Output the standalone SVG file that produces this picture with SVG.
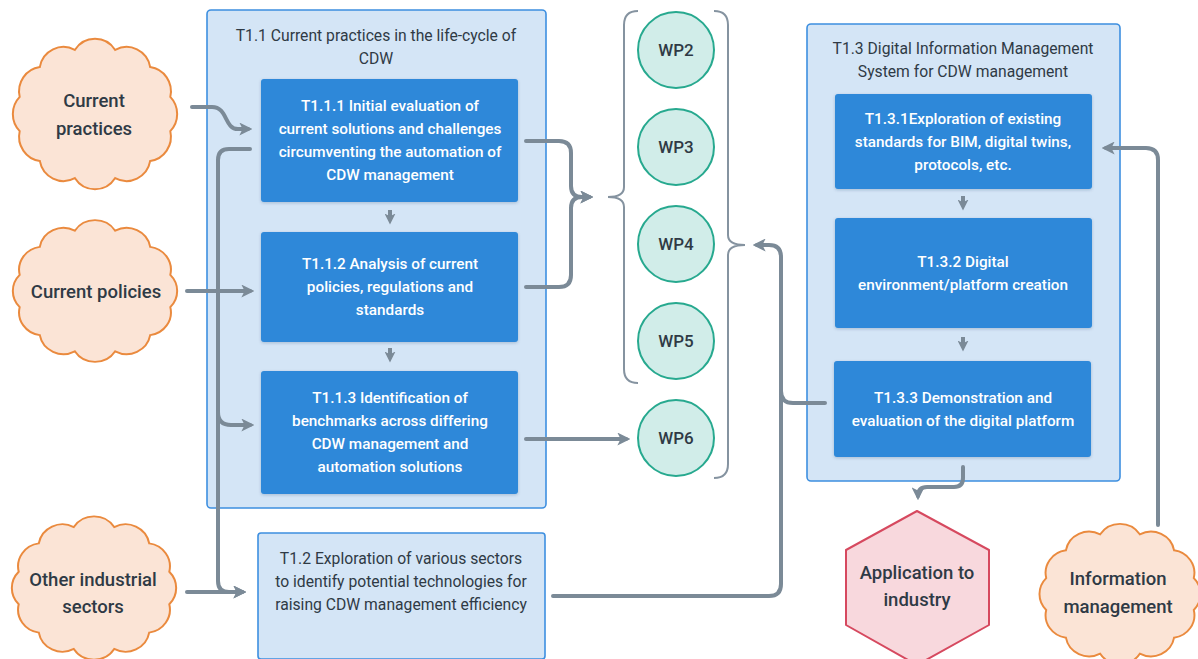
<svg xmlns="http://www.w3.org/2000/svg" width="1198" height="659" viewBox="0 0 1198 659">
  <style>
    .container { fill: #d4e5f6; stroke: #3d8fe0; stroke-width: 1.6; }
    .task { fill: #2d88d9; filter: url(#shadow); }
    .sub { fill: #d4e5f6; stroke: #3d8fe0; stroke-width: 1.6; }
    .wp { fill: #d1ede9; stroke: #27a98f; stroke-width: 2; }
    .cloud { fill: #fbe4d6; stroke: #ea8a3e; stroke-width: 2; }
    .hex { fill: #f8d8dd; stroke: #d6495f; stroke-width: 2; stroke-linejoin: round; }
    .brace { fill: none; stroke: #8593a0; stroke-width: 2; }
    .conn { fill: none; stroke: #7b8a97; stroke-width: 4; stroke-linecap: round; stroke-linejoin: round; marker-end: url(#arrow); }
    .plain { fill: none; stroke: #7b8a97; stroke-width: 4; stroke-linecap: round; stroke-linejoin: round; }
    .step { fill: none; stroke: #7b8a97; stroke-width: 4; marker-end: url(#arrowSmall); }
    text { font-family: Roboto, "Liberation Sans", sans-serif; text-anchor: middle; }
    .t-dark { fill: #2f3a45; font-size: 15.7px; }
    .t-white { fill: #ffffff; font-size: 15.3px; font-weight: 500; }
    .t-cloud { fill: #2f3a45; font-size: 18.5px; font-weight: 500; }
    .t-wp { fill: #2f3a45; font-size: 17px; font-weight: 500; }
  </style>
  <defs>
    <filter id="shadow" x="-5%" y="-5%" width="110%" height="115%">
      <feDropShadow dx="0" dy="1" stdDeviation="1.5" flood-color="#1a3d66" flood-opacity="0.25"/>
    </filter>
    <marker id="arrow" viewBox="0 0 12 12" markerWidth="13" markerHeight="13" refX="8" refY="6" orient="auto" markerUnits="userSpaceOnUse">
      <path d="M0,0 L12,6 L0,12 L3,6 Z" fill="#7b8a97"/>
    </marker>
    <marker id="arrowSmall" viewBox="0 0 12 12" markerWidth="11" markerHeight="11" refX="6" refY="6" orient="auto" markerUnits="userSpaceOnUse">
      <path d="M0,0 L12,6 L0,12 L3,6 Z" fill="#7b8a97"/>
    </marker>
    <!-- twelve-bump cloud outline centred on the origin -->
    <path id="cloudShape" d="M75.3,16.8 A24,24 0 0 1 55.2,46 A24,24 0 0 1 20.2,62.8 A24,24 0 0 1 -20.2,62.8 A24,24 0 0 1 -55.2,46 A24,24 0 0 1 -75.3,16.8 A24,24 0 0 1 -75.3,-16.8 A24,24 0 0 1 -55.2,-46 A24,24 0 0 1 -20.2,-62.8 A24,24 0 0 1 20.2,-62.8 A24,24 0 0 1 55.2,-46 A24,24 0 0 1 75.3,-16.8 A24,24 0 0 1 75.3,16.8 Z"/>
  </defs>

  <!-- T1.1 container with its three sub-tasks -->
  <g id="t1-1">
    <rect class="container" x="207" y="10" width="339" height="498" rx="4"/>
    <text class="t-dark" x="376" y="41">T1.1 Current practices in the life-cycle of</text>
    <text class="t-dark" x="376" y="64">CDW</text>
  </g>
  <g id="t1-1-1">
    <rect class="task" x="261" y="79" width="257" height="123" rx="3"/>
    <text class="t-white" x="390" y="111">T1.1.1 Initial evaluation of</text>
    <text class="t-white" x="390" y="134">current solutions and challenges</text>
    <text class="t-white" x="390" y="157">circumventing the automation of</text>
    <text class="t-white" x="390" y="180">CDW management</text>
  </g>
  <g id="t1-1-2">
    <rect class="task" x="261" y="232" width="257" height="110" rx="3"/>
    <text class="t-white" x="390" y="269">T1.1.2 Analysis of current</text>
    <text class="t-white" x="390" y="292">policies, regulations and</text>
    <text class="t-white" x="390" y="315">standards</text>
  </g>
  <g id="t1-1-3">
    <rect class="task" x="261" y="371" width="257" height="123" rx="3"/>
    <text class="t-white" x="390" y="403">T1.1.3 Identification of</text>
    <text class="t-white" x="390" y="426">benchmarks across differing</text>
    <text class="t-white" x="390" y="449">CDW management and</text>
    <text class="t-white" x="390" y="472">automation solutions</text>
  </g>

  <!-- T1.2 -->
  <g id="t1-2">
    <rect class="sub" x="258" y="533" width="287" height="126" rx="3"/>
    <text class="t-dark" x="401" y="564">T1.2 Exploration of various sectors</text>
    <text class="t-dark" x="401" y="587">to identify potential technologies for</text>
    <text class="t-dark" x="401" y="610">raising CDW management efficiency</text>
  </g>

  <!-- T1.3 container with its three sub-tasks -->
  <g id="t1-3">
    <rect class="container" x="807" y="24" width="313" height="457" rx="4"/>
    <text class="t-dark" x="963" y="54">T1.3 Digital Information Management</text>
    <text class="t-dark" x="963" y="77">System for CDW management</text>
  </g>
  <g id="t1-3-1">
    <rect class="task" x="835" y="94" width="257" height="95" rx="3"/>
    <text class="t-white" x="963" y="124">T1.3.1Exploration of existing</text>
    <text class="t-white" x="963" y="147">standards for BIM, digital twins,</text>
    <text class="t-white" x="963" y="170">protocols, etc.</text>
  </g>
  <g id="t1-3-2">
    <rect class="task" x="835" y="218" width="257" height="110" rx="3"/>
    <text class="t-white" x="963" y="267">T1.3.2 Digital</text>
    <text class="t-white" x="963" y="290">environment/platform creation</text>
  </g>
  <g id="t1-3-3">
    <rect class="task" x="834" y="361" width="257" height="96" rx="3"/>
    <text class="t-white" x="963" y="403">T1.3.3 Demonstration and</text>
    <text class="t-white" x="963" y="426">evaluation of the digital platform</text>
  </g>

  <!-- Work packages -->
  <g id="wp2"><circle class="wp" cx="676" cy="50" r="38"/><text class="t-wp" x="676" y="56">WP2</text></g>
  <g id="wp3"><circle class="wp" cx="676" cy="147" r="38"/><text class="t-wp" x="676" y="153">WP3</text></g>
  <g id="wp4"><circle class="wp" cx="676" cy="244" r="38"/><text class="t-wp" x="676" y="250">WP4</text></g>
  <g id="wp5"><circle class="wp" cx="676" cy="341" r="38"/><text class="t-wp" x="676" y="347">WP5</text></g>
  <g id="wp6"><circle class="wp" cx="676" cy="438" r="38"/><text class="t-wp" x="676" y="444">WP6</text></g>

  <!-- Braces grouping the work packages -->
  <g id="braces">
    <path class="brace" d="M638,11 Q624,11 624,25 V187 Q624,197 608,197 Q624,197 624,207 V369 Q624,383 638,383"/>
    <path class="brace" d="M714,11 Q728,11 728,25 V235 Q728,245 745,245 Q728,245 728,255 V464 Q728,478 714,478"/>
  </g>

  <!-- Input clouds -->
  <g id="current-practices">
    <use href="#cloudShape" class="cloud" transform="translate(95,114) scale(1,1.02)"/>
    <text class="t-cloud" x="94" y="107">Current</text>
    <text class="t-cloud" x="94" y="135">practices</text>
  </g>
  <g id="current-policies">
    <use href="#cloudShape" class="cloud" transform="translate(95,291) scale(1,0.96)"/>
    <text class="t-cloud" x="96" y="298">Current policies</text>
  </g>
  <g id="other-sectors">
    <use href="#cloudShape" class="cloud" transform="translate(94,588) scale(1,0.97)"/>
    <text class="t-cloud" x="93" y="586">Other industrial</text>
    <text class="t-cloud" x="93" y="613">sectors</text>
  </g>
  <g id="information-management">
    <use href="#cloudShape" class="cloud" transform="translate(1120,594) scale(0.98,0.95)"/>
    <text class="t-cloud" x="1118" y="585">Information</text>
    <text class="t-cloud" x="1118" y="613">management</text>
  </g>

  <!-- Output -->
  <g id="application">
    <polygon class="hex" points="917,511 989,550 989,625 917,665 846,625 846,550"/>
    <text class="t-cloud" x="917" y="579">Application to</text>
    <text class="t-cloud" x="917" y="606">industry</text>
  </g>

  <!-- Connectors -->
  <g id="connectors">
    <path class="conn" d="M192,107 H212 C228,107 224,129 238,129 H248"/>
    <path class="conn" d="M250,149 H229 Q218,149 218,160 V581 Q218,592 229,592 H242"/>
    <path class="conn" d="M218,412 Q218,425 231,425 H250"/>
    <path class="conn" d="M187,592 H242"/>
    <path class="conn" d="M187,291 H250"/>
    <path class="step" d="M390,210 V219"/>
    <path class="step" d="M390,348 V357"/>
    <path class="conn" d="M526,141 H559 Q571,141 571,153 V186 Q571,197 582,197 H589"/>
    <path class="conn" d="M526,287 H559 Q571,287 571,275 V208 Q571,197 582,197 H589"/>
    <path class="conn" d="M526,439 H626"/>
    <path class="conn" d="M553,596 H769 Q781,596 781,584 V257 Q781,245 769,245 H757"/>
    <path class="plain" d="M825,403 H793 Q781,403 781,391"/>
    <path class="step" d="M963,196 V205"/>
    <path class="step" d="M963,337 V346"/>
    <path class="conn" d="M963,467 V478 Q963,487 954,487 H927 Q918,487 918,496"/>
    <path class="conn" d="M1158,525 V160 Q1158,148 1146,148 H1106"/>
  </g>
</svg>
